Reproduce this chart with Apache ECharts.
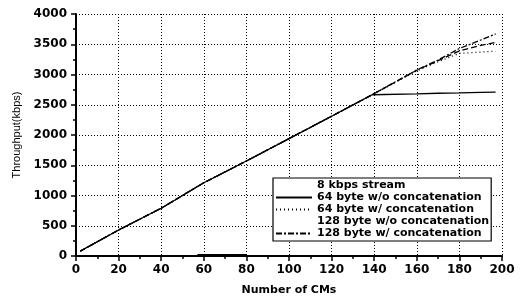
<!DOCTYPE html>
<html>
<head>
<meta charset="utf-8">
<script src="https://cdn.jsdelivr.net/npm/echarts@6/dist/echarts.min.js"></script>
<style>
html, body { margin: 0; padding: 0; background: #fff; }
#chart { width: 521px; height: 297px; }
</style>
</head>
<body>
<div id="chart"></div>
<script>
// 数据
var cms = [2, 20, 40, 60, 80, 100, 120, 139, 160, 170, 180, 190, 197];
var stream8Cms = [57, 80];
var stream8 = [12, 12];
var noConcat64 = [80, 430, 790, 1210, 1570, 1940, 2310, 2665, 2680, 2690, 2695, 2705, 2710];
var concat64 = [80, 430, 790, 1210, 1570, 1940, 2310, 2665, 3060, 3210, 3350, 3370, 3385];
var noConcat128 = [80, 430, 790, 1210, 1570, 1940, 2310, 2665, 3070, 3230, 3390, 3480, 3530];
var concat128 = [80, 430, 790, 1210, 1570, 1940, 2310, 2665, 3075, 3240, 3430, 3570, 3670];
var xTicks = [0, 20, 40, 60, 80, 100, 120, 140, 160, 180, 200];
var yTicks = [0, 500, 1000, 1500, 2000, 2500, 3000, 3500, 4000];

function pairs(xs, ys) {
    var arr = new Array();
    for (var i = 0; i < xs.length; i++) {
        arr.push([xs[i], ys[i]]);
    }
    return arr;
}

function makeSeries(name, xs, ys, type) {
    return {
        name : name,
        type : 'line',
        symbol : 'none',
        data : pairs(xs, ys),
        lineStyle : { color : '#000', width : 1.3, type : type },
        itemStyle : { color : '#000' },
        z : 3
    };
}

var chart = echarts.init(document.getElementById('chart'));
var boldFont = { color : '#000', fontSize : 11, fontWeight : 'bold', fontFamily : 'DejaVu Sans' };

var option = {
    animation : false,
    grid : { left : 76, right : 19, top : 14, bottom : 41, containLabel : false, outerBoundsMode : 'none' },
    legend : {
        orient : 'vertical',
        left : 273,
        top : 178,
        padding : [2, 2, 2, 2],
        itemGap : 1,
        itemWidth : 36,
        itemHeight : 12,
        backgroundColor : '#fff',
        borderColor : '#000',
        borderWidth : 1.2,
        itemStyle : { opacity : 0 },
        textStyle : boldFont,
        data : [
            { name : '8 kbps stream', lineStyle : { opacity : 0 } },
            { name : '64 byte w/o concatenation' },
            { name : '64 byte w/ concatenation' },
            { name : '128 byte w/o concatenation', lineStyle : { opacity : 0 } },
            { name : '128 byte w/ concatenation' }
        ]
    },
    xAxis : {
        type : 'value',
        min : 0,
        max : 200,
        interval : 20,
        name : 'Number of CMs',
        nameLocation : 'middle',
        nameGap : 29,
        nameTextStyle : boldFont,
        axisLine : { lineStyle : { color : '#000', width : 2 } },
        axisTick : { lineStyle : { color : '#000', width : 1.5 }, length : 5 },
        minorTick : { show : true, splitNumber : 2, length : 3, lineStyle : { color : '#000', width : 1.5 } },
        axisLabel : { margin : 8, color : '#000', fontSize : 12, fontWeight : 'bold', fontFamily : 'DejaVu Sans' },
        splitLine : { show : true, lineStyle : { color : '#000', type : [1, 2], width : 1 } }
    },
    yAxis : {
        type : 'value',
        min : 0,
        max : 4000,
        interval : 500,
        name : 'Throughput(kbps)',
        nameLocation : 'middle',
        nameGap : 52,
        nameTextStyle : { color : '#000', fontSize : 11, fontFamily : 'Liberation Sans' },
        axisLine : { show : true, lineStyle : { color : '#000', width : 2 } },
        axisTick : { show : true, lineStyle : { color : '#000', width : 1.5 }, length : 5 },
        minorTick : { show : true, splitNumber : 2, length : 3, lineStyle : { color : '#000', width : 1.5 } },
        axisLabel : {
            margin : 9,
            color : '#000',
            fontSize : 12,
            fontWeight : 'bold',
            fontFamily : 'DejaVu Sans',
            formatter : function(v) { return String(v); }
        },
        splitLine : { show : true, lineStyle : { color : '#000', type : [1, 2], width : 1 } }
    },
    series : [
        makeSeries('8 kbps stream', stream8Cms, stream8, 'solid'),
        makeSeries('64 byte w/o concatenation', cms, noConcat64, 'solid'),
        makeSeries('64 byte w/ concatenation', cms, concat64, [1, 3]),
        makeSeries('128 byte w/o concatenation', cms, noConcat128, [6, 3]),
        makeSeries('128 byte w/ concatenation', cms, concat128, [6, 2, 2, 2])
    ]
};
option.series[0].lineStyle.width = 2.5;

chart.setOption(option);
</script>
</body>
</html>
